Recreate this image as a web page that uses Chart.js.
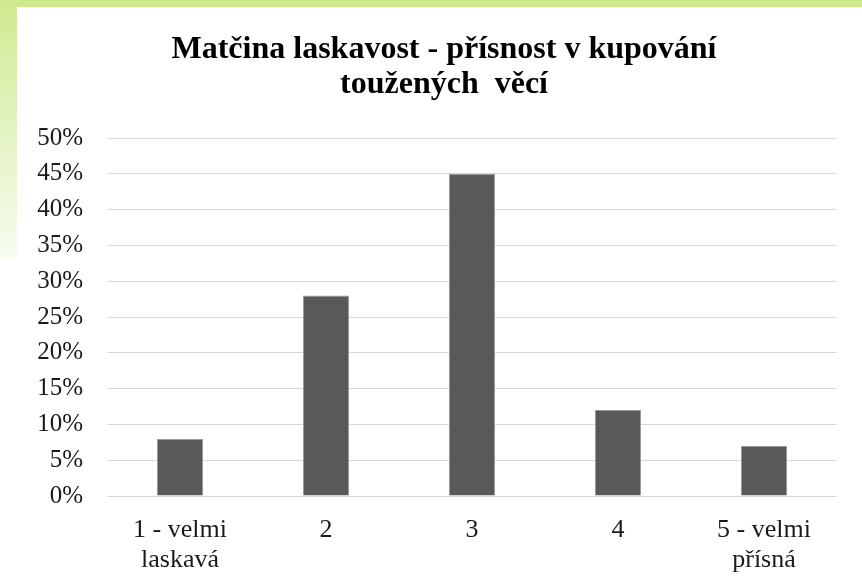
<!DOCTYPE html>
<html>
<head>
<meta charset="utf-8">
<script src="https://cdn.jsdelivr.net/npm/chart.js@4/dist/chart.umd.min.js"></script>
<style>
  html, body { margin: 0; padding: 0; background: #ffffff; }
  #wrap { position: relative; width: 862px; height: 587px; overflow: hidden; background: #ffffff; }
  #topStrip { position: absolute; left: 0; top: 0; width: 862px; height: 7px; background: #cfe98e; }
  #leftStrip { position: absolute; left: 0; top: 7px; width: 17px; height: 250px;
               background: linear-gradient(to bottom, #d1ea93 0%, #e6f4c8 55%, #f7fcee 100%); }
  #c { position: absolute; left: 17px; top: 7px; }
</style>
</head>
<body>
<div id="wrap">
  <div id="topStrip"></div>
  <div id="leftStrip"></div>
  <canvas id="c" width="845" height="580"></canvas>
</div>
<script>
const titleLines = ["Matčina laskavost - přísnost v kupování", "toužených  věcí"];
const categories = [["1 - velmi", "laskavá"], "2", "3", "4", ["5 - velmi", "přísná"]];
const values = [8, 28, 45, 12, 7];
const yMin = 0, yMax = 50, yStep = 5;

// shift the title block so it is centred like the reference
const titleShift = {
  id: 'titleShift',
  afterLayout(chart) {
    if (chart.titleBlock) { chart.titleBlock.left += 34; }
  }
};

new Chart(document.getElementById('c'), {
  type: 'bar',
  data: {
    labels: categories,
    datasets: [{
      data: values,
      backgroundColor: '#595959',
      borderColor: '#9a9a9a',
      borderWidth: 1,
      barPercentage: 0.315,
      categoryPercentage: 1.0
    }]
  },
  plugins: [titleShift],
  options: {
    responsive: false,
    animation: false,
    devicePixelRatio: 1,
    layout: { padding: { left: 0, right: 25, top: 0, bottom: 0 } },
    plugins: {
      legend: { display: false },
      tooltip: { enabled: false },
      title: {
        display: true,
        text: titleLines,
        color: '#000000',
        font: { family: 'Liberation Serif', size: 32, weight: 'bold', lineHeight: 1.094 },
        padding: { top: 25.5, bottom: 35.5 }
      }
    },
    scales: {
      x: {
        grid: { display: false, drawTicks: false },
        border: { display: false },
        ticks: {
          color: '#1a1a1a',
          padding: 19,
          maxRotation: 0,
          autoSkip: false,
          font: { family: 'Liberation Serif', size: 26, lineHeight: 1.154 }
        },
        afterFit: (s) => { s.height = 91; }
      },
      y: {
        min: yMin,
        max: yMax,
        grid: { color: '#d9d9d9', lineWidth: 1, drawTicks: false },
        border: { display: false },
        ticks: {
          stepSize: yStep,
          color: '#1a1a1a',
          padding: 24,
          font: { family: 'Liberation Serif', size: 25 },
          callback: (v) => v + '%'
        },
        afterFit: (s) => { s.width = 90; }
      }
    }
  }
});
</script>
</body>
</html>
